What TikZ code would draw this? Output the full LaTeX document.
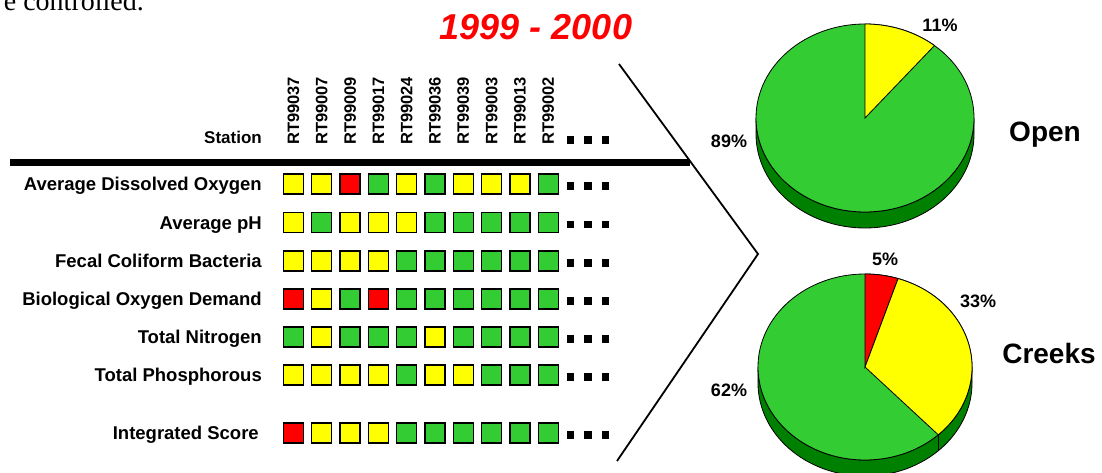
\documentclass[tikz,border=0pt]{standalone}
\usepackage{fontspec}
\setmainfont{Liberation Sans}
\newfontfamily\bodyserif{Liberation Serif}
\usepackage{xcolor}
\definecolor{okgreen}{HTML}{33CC33}
\definecolor{sidegreen}{HTML}{008000}
\definecolor{fairyellow}{HTML}{FFFF00}
\definecolor{poorred}{HTML}{FF0000}
\usepackage{tikz}
\tikzset{
    cell/.style = {
      draw = black,
      line width = 1.3pt,
      minimum size = 20pt,
      inner sep = 0pt
    },
    good/.style = {cell, fill=okgreen},
    fair/.style = {cell, fill=fairyellow},
    poor/.style = {cell, fill=poorred},
    more/.style = {
      fill = black,
      minimum size = 7.5pt,
      inner sep = 0pt
    },
    param/.style = {
      font = \bfseries\fontsize{18.5}{21}\selectfont,
      anchor = base east,
      inner sep = 0pt
    },
    head/.style = {
      font = \bfseries\fontsize{17}{20}\selectfont,
      anchor = base east,
      inner sep = 0pt
    },
    station/.style = {
      font = \bfseries\fontsize{16.5}{18}\selectfont,
      rotate = 90,
      anchor = west,
      inner sep = 0pt
    },
    share/.style = {
      font = \bfseries\fontsize{18}{20}\selectfont,
      inner sep = 0pt
    },
    group/.style = {
      font = \bfseries\fontsize{28}{32}\selectfont,
      anchor = base,
      inner sep = 0pt
    },
    slice/.style = {
      draw = black,
      line width = 0.8pt
    }
}

\begin{document}
\begin{tikzpicture}[x=1pt, y=-1pt]
      \path[fill=white, use as bounding box] (0,0) rectangle (1102,473);

      \node[font=\bodyserif\fontsize{28}{32}\selectfont, anchor=base east, inner sep=0pt] (prev) at (144,11) {e controlled.};
      \node[font=\bfseries\itshape\fontsize{36}{40}\selectfont, text=poorred] (title) at (536,27) {1999 - 2000};

      % table head
      \node[head] (st) at (262,144) {Station};
      \foreach \id [count=\i] in {RT99037,RT99007,RT99009,RT99017,RT99024,RT99036,RT99039,RT99003,RT99013,RT99002}
        \node[station] (\id) at ({293.5+28.3*(\i-1)},145) {\id};

      \coordinate (HL) at (10,162.5);
      \coordinate (HR) at (690,162.5);
      \draw[line width=7pt] (HL) -- (HR);

      % parameters
      \node[param] (ADO) at (262,190.5) {Average Dissolved Oxygen};
      \node[param] (PH)  at (262,229) {Average pH};
      \node[param] (FCB) at (262,267.5) {Fecal Coliform Bacteria};
      \node[param] (BOD) at (262,305.5) {Biological Oxygen Demand};
      \node[param] (TN)  at (262,343.5) {Total Nitrogen};
      \node[param] (TP)  at (262,381.5) {Total Phosphorous};
      \node[param] (IS)  at (259,439.5) {Integrated Score};

      \foreach \y/\cells [count=\r] in {
          184/{fair,fair,poor,good,fair,good,fair,fair,fair,good},
          222.5/{fair,good,fair,fair,fair,good,good,good,good,good},
          261/{fair,fair,fair,fair,good,good,good,good,good,good},
          299/{poor,fair,good,poor,good,good,good,good,good,good},
          337/{good,fair,good,good,good,fair,good,good,good,good},
          375/{fair,fair,fair,fair,good,fair,fair,good,good,good},
          433/{poor,fair,fair,fair,good,good,good,good,good,good}}
        \foreach \cls [count=\i] in \cells
          \node[\cls] (cell\r-\i) at ({293.5+28.3*(\i-1)},\y) {};

      \foreach \y [count=\r] in {140,186,224.5,263,301,339,377,435}
        \foreach \dx [count=\k] in {570.5,588,605.5}
          \node[more] (dot\r-\k) at (\dx,\y) {};

      % bracket
      \coordinate (CT) at (619,64);
      \coordinate (CV) at (758,254);
      \coordinate (CB) at (617,461);
      \draw[line width=1.8pt] (CT) -- (CV) -- (CB);

      % open
      \begin{scope}[shift={(865,118)}, yscale=-1]
        \filldraw[slice, fill=sidegreen] (-109,0) arc[start angle=180, end angle=360, x radius=109, y radius=94]
          -- (109,-16) arc[start angle=0, end angle=-180, x radius=109, y radius=94] -- cycle;
        \filldraw[slice, fill=okgreen] (0,0) ellipse[x radius=109, y radius=94];
        \filldraw[slice, fill=fairyellow] (0,0) -- (0,94) arc[start angle=90, end angle=50.4, x radius=109, y radius=94] -- cycle;
      \end{scope}
      \node[share] (p11) at (940,25) {11\%};
      \node[share] (p89) at (729,141) {89\%};
      \node[group] (open) at (1045,141.5) {Open};

      % creeks
      \begin{scope}[shift={(865,367)}, yscale=-1]
        \filldraw[slice, fill=sidegreen] (-107,0) arc[start angle=180, end angle=360, x radius=107, y radius=93]
          -- (107,-16) arc[start angle=0, end angle=-180, x radius=107, y radius=93] -- cycle;
        \filldraw[slice, fill=okgreen] (0,0) ellipse[x radius=107, y radius=93];
        \filldraw[slice, fill=poorred] (0,0) -- (0,93) arc[start angle=90, end angle=72, x radius=107, y radius=93] -- cycle;
        \filldraw[slice, fill=fairyellow] (0,0) -- (72:107 and 93) arc[start angle=72, end angle=-46.8, x radius=107, y radius=93] -- cycle;
        \draw[slice] (-46.8:107 and 93) -- ++(0,-16);
      \end{scope}
      \node[share] (p5) at (885,259) {5\%};
      \node[share] (p33) at (978,301) {33\%};
      \node[share] (p62) at (729,390) {62\%};
      \node[group] (creeks) at (1049,363) {Creeks};
\end{tikzpicture}
\end{document}
